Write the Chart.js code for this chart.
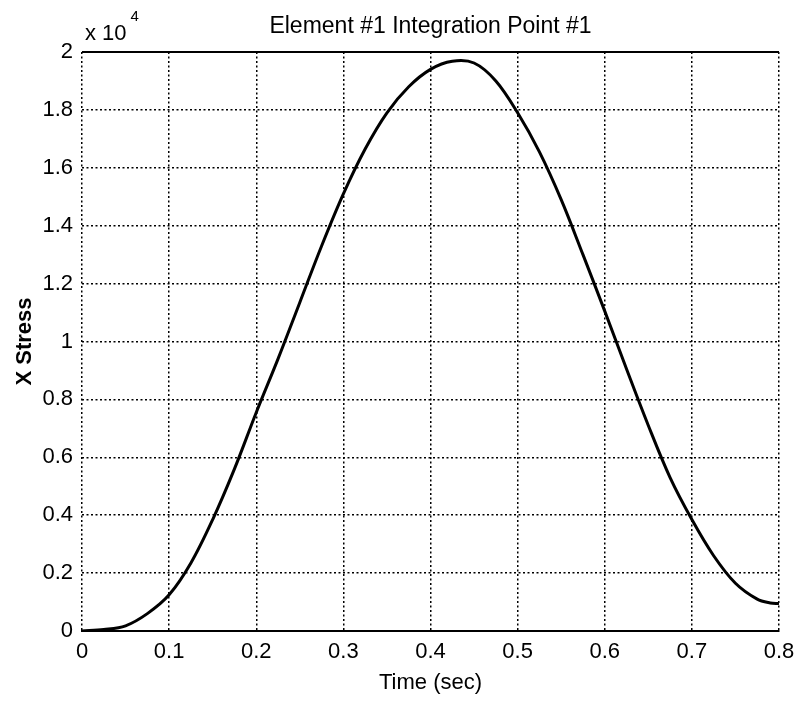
<!DOCTYPE html>
<html>
<head>
<meta charset="utf-8">
<script src="https://cdn.jsdelivr.net/npm/chart.js@4.4.1/dist/chart.umd.min.js"></script>
<style>
  html, body { margin: 0; padding: 0; background: #fff; }
  #wrap { width: 795px; height: 703px; position: relative; }
</style>
</head>
<body>
<div id="wrap"><canvas id="c"></canvas></div>
<script>
// ---- data ----
const chartTitle = "Element #1 Integration Point #1";
const xLabel = "Time (sec)";
const yLabel = "X Stress";
const timeSec = [0, 0.025, 0.05, 0.075, 0.1, 0.125, 0.15, 0.175, 0.2, 0.225, 0.25, 0.275,
  0.3, 0.325, 0.35, 0.375, 0.4, 0.425, 0.45, 0.475, 0.5, 0.525, 0.55, 0.575,
  0.6, 0.625, 0.65, 0.675, 0.7, 0.725, 0.75, 0.775, 0.79, 0.8];
const xStress = [0, 50, 180, 600, 1250, 2350, 3850, 5600, 7550, 9400, 11350, 13300,
  15100, 16650, 17900, 18800, 19400, 19680, 19620, 19000, 17900, 16550, 14900, 13000,
  11050, 9050, 7100, 5300, 3850, 2600, 1650, 1100, 970, 950];
const xTicks = [0, 0.1, 0.2, 0.3, 0.4, 0.5, 0.6, 0.7, 0.8];
const yTicks = [0, 2000, 4000, 6000, 8000, 10000, 12000, 14000, 16000, 18000, 20000];
const yScaleExponent = 4;

const FONT = "'Liberation Sans', Arial, Helvetica, sans-serif";

const points = timeSec.map((t, i) => ({ x: t, y: xStress[i] }));

const extras = {
  id: 'extras',
  afterDraw(chart) {
    const { ctx, chartArea } = chart;
    ctx.save();
    // solid top frame line
    ctx.strokeStyle = '#000';
    ctx.lineWidth = 2;
    ctx.beginPath();
    ctx.moveTo(chartArea.left, chartArea.top);
    ctx.lineTo(chartArea.right, chartArea.top);
    ctx.stroke();
    // exponent label  "x 10^4"
    ctx.fillStyle = '#000';
    ctx.textBaseline = 'alphabetic';
    ctx.textAlign = 'left';
    ctx.font = '22px ' + FONT;
    const base = 'x 10';
    ctx.fillText(base, 85, 40);
    const w = ctx.measureText(base).width;
    ctx.font = '15px ' + FONT;
    ctx.fillText(String(yScaleExponent), 85 + w + 4, 21);
    ctx.restore();
  }
};

new Chart(document.getElementById('c'), {
  type: 'line',
  data: {
    datasets: [{
      data: points,
      borderColor: '#000',
      borderWidth: 3,
      pointRadius: 0,
      fill: false,
      tension: 0.35
    }]
  },
  options: {
    responsive: true,
    maintainAspectRatio: false,
    animation: false,
    layout: { padding: { top: 0, left: 0, right: 16, bottom: 0 } },
    plugins: {
      legend: { display: false },
      tooltip: { enabled: false },
      title: {
        display: true,
        fullSize: false,
        text: chartTitle,
        color: '#000',
        font: { family: FONT, size: 23, weight: 'normal' },
        padding: { top: 13, bottom: 11.4 }
      }
    },
    scales: {
      x: {
        type: 'linear',
        min: 0, max: 0.8,
        afterBuildTicks(scale) { scale.ticks = xTicks.map(v => ({ value: v })); },
        afterFit(scale) { scale.height = 72; scale.paddingRight = 16; scale.paddingLeft = 0; },
        ticks: {
          color: '#000',
          padding: 8,
          maxRotation: 0,
          font: { family: FONT, size: 22 },
          callback: v => String(Number(v.toFixed(1)))
        },
        grid: { color: '#000', lineWidth: 1.5, drawTicks: false },
        border: { display: true, color: '#000', width: 2, dash: [2, 2.5] },
        title: {
          display: true,
          text: xLabel,
          color: '#000',
          font: { family: FONT, size: 22 },
          padding: { top: 0, bottom: 7 }
        }
      },
      y: {
        type: 'linear',
        min: 0, max: 20000,
        afterBuildTicks(scale) { scale.ticks = yTicks.map(v => ({ value: v })); },
        afterFit(scale) { scale.width = 82; },
        ticks: {
          color: '#000',
          padding: 9,
          font: { family: FONT, size: 22 },
          callback: v => String(Number((v / Math.pow(10, yScaleExponent)).toFixed(1)))
        },
        grid: { color: '#000', lineWidth: 1.5, drawTicks: false },
        border: { display: false, dash: [2, 2.5] },
        title: {
          display: true,
          text: yLabel,
          color: '#000',
          font: { family: FONT, size: 22, weight: 'bold' },
          padding: { top: 12, bottom: 0 }
        }
      }
    }
  },
  plugins: [extras]
});
</script>
</body>
</html>
